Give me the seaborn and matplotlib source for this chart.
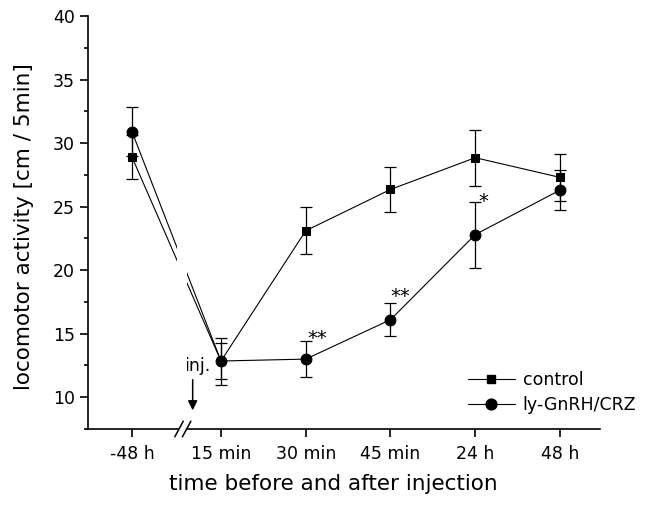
import matplotlib
matplotlib.use("Agg")
import matplotlib.pyplot as plt
import seaborn as sns
import numpy as np
import pandas as pd
from matplotlib.ticker import MultipleLocator, FixedLocator
from matplotlib.patches import Rectangle
from matplotlib.lines import Line2D

# ---------------- data ----------------
time_labels = ['-48 h', '15 min', '30 min', '45 min', '24 h', '48 h']
control_mean = [28.9, 12.85, 23.1, 26.35, 28.85, 27.3]
control_err = [1.7, 1.45, 1.85, 1.75, 2.2, 1.85]
crz_mean = [30.9, 12.85, 13.0, 16.1, 22.8, 26.3]
crz_err = [1.9, 1.85, 1.4, 1.3, 2.6, 1.6]
group_names = ['control', 'ly-GnRH/CRZ']
stars = ['', '', '**', '**', '*', '']
star_y = [0, 0, 14.93, 18.24, 25.7, 0]

# layout: x positions of time points (axis break between first and second)
xpos = np.array([-0.05, 1, 2, 3, 4, 5])

df = pd.DataFrame({
    'x': np.concatenate([xpos, xpos]),
    'value': control_mean + crz_mean,
    'err': control_err + crz_err,
    'group': [group_names[0]] * len(xpos) + [group_names[1]] * len(xpos),
})

sns.set_style('ticks')
plt.rcParams['font.family'] = ['DejaVu Sans']
plt.rcParams['text.color'] = 'black'
plt.rcParams['axes.labelcolor'] = 'black'
plt.rcParams['xtick.color'] = 'black'
plt.rcParams['ytick.color'] = 'black'
plt.rcParams['axes.edgecolor'] = 'black'

fig = plt.figure(figsize=(6.56, 5.16), dpi=100)
ax = fig.add_axes([88/656, 1 - 429/516, 512/656, 413/516])

# error bars
for g in group_names:
    sub = df[df['group'] == g]
    ax.errorbar(sub['x'], sub['value'], yerr=sub['err'], fmt='none',
                ecolor='black', elinewidth=0.9, capsize=4, capthick=0.9, zorder=2)

# lines + markers (control first so the circles lie on top)
marker_map = {'control': 's', 'ly-GnRH/CRZ': 'o'}
size_map = {'control': 6.2, 'ly-GnRH/CRZ': 7.8}
for k, g in enumerate(group_names):
    sns.lineplot(data=df[df['group'] == g], x='x', y='value', color='black',
                 marker=marker_map[g], markersize=size_map[g], linewidth=0.8,
                 markeredgecolor='black', ax=ax, legend=False, zorder=3 + k)

# gap in lines at the axis break
ax.add_patch(Rectangle((0.48, 8.6), 0.12, 30.5, facecolor='white',
                       edgecolor='none', zorder=5))

ax.set_xlim(-0.569, 5.472)
ax.set_ylim(7.5, 40)
ax.xaxis.set_major_locator(FixedLocator(xpos))
ax.set_xticklabels(time_labels)
ax.set_yticks([10, 15, 20, 25, 30, 35, 40])
ax.yaxis.set_minor_locator(MultipleLocator(2.5))

for s in ['top', 'right']:
    ax.spines[s].set_visible(False)
for s in ['left', 'bottom']:
    ax.spines[s].set_linewidth(1.2)
    ax.spines[s].set_color('black')

ax.tick_params(axis='both', which='major', direction='out', length=5.5,
               width=1.2, labelsize=12.5, colors='black')
ax.tick_params(axis='y', which='minor', direction='out', length=3,
               width=1.2, colors='black')
ax.tick_params(axis='x', pad=6)
ax.tick_params(axis='y', pad=4)

ax.set_xlabel('time before and after injection', fontsize=15.5, color='black')
ax.set_ylabel('locomotor activity [cm / 5min]', fontsize=15.5, color='black')
ax.xaxis.set_label_coords(0.48, -0.108)
ax.yaxis.set_label_coords(-0.105, 0.49)

# axis break marks
trans = ax.get_xaxis_transform()
ax.plot([0.52, 0.56], [0.0, 0.0], color='white', lw=2.5, transform=trans,
        clip_on=False, zorder=6)
for cx in [0.505, 0.595]:
    ax.plot([cx - 0.05, cx + 0.05], [-0.019, 0.019], color='black', lw=1.1,
            transform=trans, clip_on=False, zorder=7)

# injection arrow
ax.annotate('', xy=(0.666, 8.75), xytext=(0.666, 11.6),
            arrowprops=dict(arrowstyle='-|>', color='black', lw=1.1,
                            mutation_scale=14))
ax.text(0.72, 12.45, 'inj.', ha='center', va='center', fontsize=12.5,
        color='black')

# significance stars
star_off = [0, 0, 0.13, 0.12, 0.09, 0]
for i, s in enumerate(stars):
    if s:
        ax.text(xpos[i] + star_off[i], star_y[i] - 0.3, s, ha='center',
                va='center', fontsize=14, color='black')

# legend
handles = [Line2D([], [], color='black', lw=0.8, marker='s', markersize=6.2),
           Line2D([], [], color='black', lw=0.8, marker='o', markersize=7.8)]
leg = ax.legend(handles, group_names, loc='upper left',
                bbox_to_anchor=(0.742, 0.14), frameon=False, fontsize=12.5,
                handlelength=2.7, handletextpad=0.45, labelspacing=0.42,
                borderpad=0, borderaxespad=0)
for t in leg.get_texts():
    t.set_color('black')

fig.savefig('out.png', dpi=100)
